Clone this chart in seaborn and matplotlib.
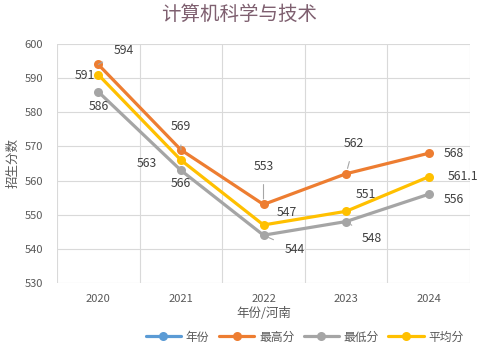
import matplotlib
matplotlib.use("Agg")
import matplotlib.pyplot as plt
import seaborn as sns
import pandas as pd

title = "计算机科学与技术"
years = ["2020", "2021", "2022", "2023", "2024"]
year_vals = [2020, 2021, 2022, 2023, 2024]
max_scores = [594, 569, 553, 562, 568]
min_scores = [586, 563, 544, 548, 556]
avg_scores = [591, 566, 547, 551, 561.1]
avg_labels = ["591", "566", "547", "551", "561.1"]
series_names = ["年份", "最高分", "最低分", "平均分"]
y_ticks = [530, 540, 550, 560, 570, 580, 590, 600]

sns.set_theme(style="white")
plt.rcParams['font.family'] = ['Noto Sans CJK SC', 'DejaVu Sans']

colors = {"年份": "#5B9BD5", "最高分": "#ED7D31", "最低分": "#A5A5A5", "平均分": "#FFC000"}

df = pd.DataFrame({
    "year": years * 4,
    "value": year_vals + max_scores + min_scores + avg_scores,
    "series": sum([[s] * len(years) for s in series_names], []),
})

fig = plt.figure(figsize=(4.79, 3.56), dpi=100)
ax = fig.add_axes([57/479, 1-283/356, 413/479, 239/356])

sns.lineplot(data=df, x="year", y="value", hue="series", hue_order=series_names,
             palette=colors, marker="o", markersize=6.5, markeredgewidth=0,
             linewidth=2.3, ax=ax, sort=False)

ax.set_ylim(530, 600)
ax.set_xlim(-0.5, 4.5)
ax.set_yticks(y_ticks)
ax.set_yticklabels([str(t) for t in y_ticks])
ax.set_xticks(range(len(years)))
ax.set_xticklabels(years)
ax.set_xticks([i - 0.5 for i in range(len(years) + 1)], minor=True)
ax.grid(True, which="major", axis="y", color="#D9D9D9", lw=0.8)
ax.grid(True, which="minor", axis="x", color="#D9D9D9", lw=0.8)
ax.grid(False, which="major", axis="x")
for s in ax.spines.values():
    s.set_visible(False)
ax.tick_params(axis="both", which="both", length=0, labelsize=8, colors="#595959")
ax.tick_params(axis="y", pad=10)
ax.tick_params(axis="x", pad=8)
ax.set_xlabel("年份/河南", fontsize=9, color="#595959", labelpad=2)
ax.set_ylabel("招生分数", fontsize=9, color="#595959", labelpad=4)
fig.suptitle(title, y=0.99, fontsize=14, color="#7F6070")

px = 0.72
def lab(x, y, text, dx, dy, leader=False):
    kw = {}
    if leader:
        kw["arrowprops"] = dict(arrowstyle="-", color="#A6A6A6", lw=0.8, shrinkA=6, shrinkB=4)
    ax.annotate(text, (x, y), xytext=(dx * px, -dy * px), textcoords="offset points",
                ha="center", va="center", fontsize=8.8, color="#404040", **kw)

max_off = [(25, -14, True), (0, -23, True), (0, -38, True), (8, -30, True), (25, 0, False)]
min_off = [(0, 15, False), (-34, -7, False), (31, 14, True), (26, 17, True), (25, 5, False)]
avg_off = [(-13, 1, False), (0, 23, False), (23, -12, False), (20, -17, False), (34, 0, False)]
for i in range(len(years)):
    lab(i, max_scores[i], str(max_scores[i]), *max_off[i])
    lab(i, min_scores[i], str(min_scores[i]), *min_off[i])
    lab(i, avg_scores[i], avg_labels[i], *avg_off[i])

handles, labels = ax.get_legend_handles_labels()
ax.legend(handles, labels, loc="center", bbox_to_anchor=(0.6, -0.226), ncol=4,
          frameon=False, fontsize=8.5, handlelength=3.0, columnspacing=0.8,
          handletextpad=0.4, labelcolor="#595959")

fig.savefig("out.png", dpi=100)
